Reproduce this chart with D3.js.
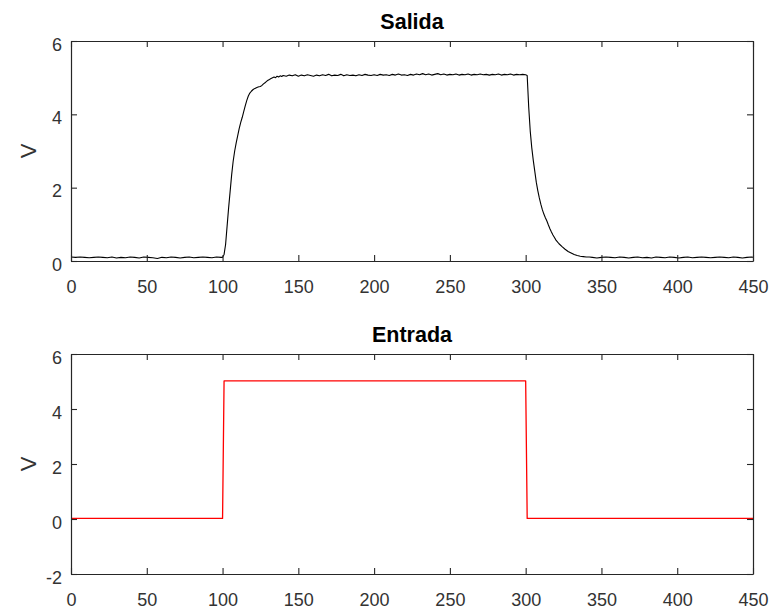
<!DOCTYPE html>
<html>
<head>
<meta charset="utf-8">
<script src="https://cdn.jsdelivr.net/npm/d3@7"></script>
<style>
  body { margin: 0; background: #fff; }
  svg { display: block; font-family: "Liberation Sans", Arial, Helvetica, sans-serif; }
</style>
</head>
<body>
<div id="chart"></div>
<script>
// Salida (measured output), pairs of [t, V]
var salida = [
  [0,0.11],[3,0.10],[6,0.11],[9,0.10],[12,0.09],[15,0.10],[18,0.11],[21,0.10],[24,0.09],[27,0.11],
  [30,0.08],[33,0.10],[36,0.09],[39,0.11],[42,0.10],[45,0.08],[48,0.11],[51,0.10],[54,0.09],[57,0.07],
  [60,0.10],[63,0.09],[66,0.11],[69,0.10],[72,0.08],[75,0.10],[78,0.11],[81,0.09],[84,0.10],[87,0.11],
  [90,0.10],[93,0.09],[96,0.11],[99,0.10],
  [100,0.10],[101,0.18],[102,0.45],[103,0.95],[104,1.45],[105,1.90],[106,2.35],[107,2.72],[108,3.00],[109,3.22],
  [110,3.42],[111,3.62],[112,3.78],[113,3.92],[114,4.08],[115,4.24],[116,4.38],[117,4.50],[118,4.58],[119,4.63],
  [120,4.67],[121,4.70],[122,4.72],[123,4.74],[124,4.75],[125,4.76],[126,4.79],[127,4.83],[128,4.86],[129,4.90],
  [130,4.93],[131,4.95],[132,4.98],[133,5.00],[134,5.02],[135,5.00],[136,5.04],[137,5.02],[138,5.05],[139,5.03],
  [140,5.06],[142,5.04],[144,5.07],[146,5.05],[148,5.08],[150,5.04],[152,5.07],[154,5.05],[156,5.08],[158,5.06],
  [160,5.04],[162,5.07],[164,5.05],[166,5.08],[168,5.06],[170,5.09],[172,5.05],[174,5.07],[176,5.06],[178,5.09],
  [180,5.05],[182,5.08],[184,5.06],[186,5.07],[188,5.05],[190,5.08],[192,5.06],[194,5.09],[196,5.07],[198,5.06],
  [200,5.08],[202,5.06],[204,5.09],[206,5.07],[208,5.08],[210,5.06],[212,5.09],[214,5.07],[216,5.10],[218,5.07],
  [220,5.08],[222,5.06],[224,5.09],[226,5.07],[228,5.10],[230,5.08],[232,5.11],[234,5.08],[236,5.10],[238,5.07],
  [240,5.09],[242,5.11],[244,5.08],[246,5.10],[248,5.07],[250,5.09],[252,5.08],[254,5.10],[256,5.07],[258,5.09],
  [260,5.08],[262,5.10],[264,5.07],[266,5.09],[268,5.08],[270,5.10],[272,5.08],[274,5.09],[276,5.07],[278,5.09],
  [280,5.08],[282,5.10],[284,5.07],[286,5.09],[288,5.08],[290,5.10],[292,5.07],[294,5.09],[296,5.08],[298,5.09],
  [300,5.08],[301,5.06],
  [302,4.20],[303,3.55],[304,3.10],[305,2.75],[306,2.45],[307,2.15],[308,1.92],[309,1.72],[310,1.55],[311,1.40],
  [312,1.28],[313,1.18],[314,1.09],[315,0.98],[316,0.88],[317,0.79],[318,0.71],[319,0.64],[320,0.57],[322,0.47],
  [324,0.39],[326,0.32],[328,0.26],[330,0.22],[332,0.18],[334,0.15],[336,0.13],[338,0.12],[340,0.11],[342,0.11],
  [344,0.10],[347,0.08],[350,0.10],[353,0.11],[356,0.10],[359,0.09],[362,0.11],[365,0.10],[368,0.08],[371,0.10],
  [374,0.11],[377,0.09],[380,0.10],[383,0.08],[386,0.11],[389,0.10],[392,0.09],[395,0.11],[398,0.10],[401,0.08],
  [404,0.10],[407,0.11],[410,0.09],[413,0.10],[416,0.11],[419,0.10],[422,0.09],[425,0.10],[428,0.11],[431,0.10],
  [434,0.09],[437,0.11],[440,0.10],[443,0.08],[446,0.10],[449,0.11],[450,0.10]
];

// Entrada (step input)
var entrada = [[0,0.02],[100,0.02],[101,5.02],[300,5.02],[301,0.02],[450,0.02]];

var xTicks = [0, 50, 100, 150, 200, 250, 300, 350, 400, 450];
var yTicksTop = [0, 2, 4, 6];
var yTicksBottom = [-2, 0, 2, 4, 6];

var width = 773, height = 609;
var svg = d3.select("#chart").append("svg")
    .attr("width", width)
    .attr("height", height);

var left = 71, right = 753;
var axisColor = "#262626";
var plainFormat = function(d) { return String(d); };  // hyphen minus like MATLAB

function drawPanel(cfg) {
  var x = d3.scaleLinear().domain([0, 450]).range([left, right]);
  var y = d3.scaleLinear().domain(cfg.yDomain).range([cfg.bottom, cfg.top]);
  var g = svg.append("g");

  g.append("rect")
    .attr("x", left).attr("y", cfg.top)
    .attr("width", right - left).attr("height", cfg.bottom - cfg.top)
    .attr("fill", "#fff");

  var line = d3.line()
    .x(function(d) { return x(d[0]); })
    .y(function(d) { return y(d[1]); });

  g.append("path")
    .datum(cfg.data)
    .attr("fill", "none")
    .attr("stroke", cfg.color)
    .attr("stroke-width", cfg.lineWidth)
    .attr("stroke-linejoin", "round")
    .attr("d", line);

  var bottomAxis = g.append("g")
    .attr("transform", "translate(0," + cfg.bottom + ")")
    .call(d3.axisBottom(x).tickValues(xTicks).tickFormat(plainFormat)
      .tickSize(-6).tickSizeOuter(0).tickPadding(19));
  var topAxis = g.append("g")
    .attr("transform", "translate(0," + cfg.top + ")")
    .call(d3.axisTop(x).tickValues(xTicks).tickSize(-6).tickSizeOuter(0).tickFormat(""));
  var leftAxis = g.append("g")
    .attr("transform", "translate(" + left + ",0)")
    .call(d3.axisLeft(y).tickValues(cfg.yTicks).tickFormat(plainFormat)
      .tickSize(-6).tickSizeOuter(0).tickPadding(9));
  var rightAxis = g.append("g")
    .attr("transform", "translate(" + right + ",0)")
    .call(d3.axisRight(y).tickValues(cfg.yTicks).tickSize(-6).tickSizeOuter(0).tickFormat(""));

  [bottomAxis, topAxis, leftAxis, rightAxis].forEach(function(a) {
    a.select(".domain").attr("stroke", axisColor).attr("stroke-width", 1.2);
    a.selectAll(".tick line").attr("stroke", axisColor).attr("stroke-width", 1.1);
    a.selectAll(".tick text")
      .attr("fill", "#333")
      .style("font-size", "18px")
      .style("font-family", "'Liberation Sans', Arial, sans-serif");
  });
  leftAxis.selectAll(".tick text").attr("dy", "0.5em");

  // title
  g.append("text")
    .attr("x", (left + right) / 2)
    .attr("y", cfg.top - 12.5)
    .attr("text-anchor", "middle")
    .attr("fill", "#000")
    .style("font-size", "21.5px")
    .style("font-weight", "bold")
    .text(cfg.title);

  // y label
  var cy = (cfg.top + cfg.bottom) / 2;
  g.append("text")
    .attr("transform", "translate(36," + cy + ") rotate(-90)")
    .attr("text-anchor", "middle")
    .attr("fill", "#333")
    .style("font-size", "22px")
    .text("V");
}

drawPanel({
  title: "Salida", data: salida, color: "#000", lineWidth: 1.1,
  top: 41, bottom: 261, yDomain: [0, 6], yTicks: yTicksTop
});

drawPanel({
  title: "Entrada", data: entrada, color: "#ff0000", lineWidth: 1.3,
  top: 354, bottom: 574, yDomain: [-2, 6], yTicks: yTicksBottom
});
</script>
</body>
</html>
